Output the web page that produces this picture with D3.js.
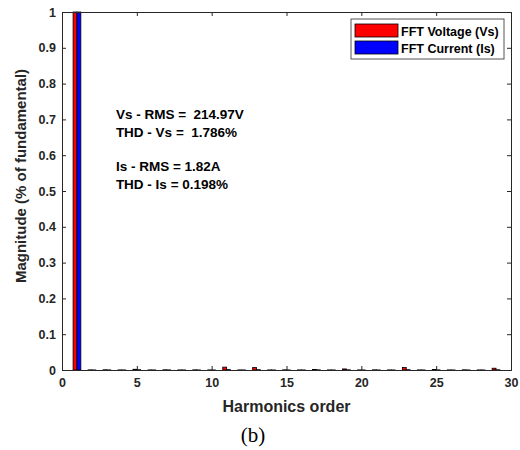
<!DOCTYPE html>
<html lang="en">
<head>
  <meta charset="utf-8">
  <script src="https://d3js.org/d3.v7.min.js"></script>
  <style>
    body { margin: 0; background: #fff; }
    text { font-family: "Liberation Sans", Arial, sans-serif; }
  </style>
</head>
<body>
  <svg id="chart"></svg>
  <script>
    // harmonic spectrum (magnitude relative to fundamental)
    var harmonics = [1, 2, 3, 4, 5, 6, 7, 8, 9, 10, 11, 12, 13, 14, 15, 16, 17, 18, 19, 20, 21, 22, 23, 24, 25, 26, 27, 28, 29];
    var vsMag = [1, 0.0004, 0.0006, 0.0003, 0.002, 0.0003, 0.0006, 0.0003, 0.0005, 0.0003, 0.008, 0.0003, 0.007, 0.0003, 0.0005,
                 0.0003, 0.0015, 0.0003, 0.003, 0.0003, 0.0005, 0.0003, 0.007, 0.0003, 0.0015, 0.0003, 0.0005, 0.0003, 0.005];
    var isMag = [1, 0.0002, 0.0003, 0.0002, 0.0008, 0.0002, 0.0003, 0.0002, 0.0002, 0.0002, 0.001, 0.0002, 0.0008, 0.0002, 0.0002,
                 0.0002, 0.0004, 0.0002, 0.0005, 0.0002, 0.0002, 0.0002, 0.0008, 0.0002, 0.0004, 0.0002, 0.0002, 0.0002, 0.0006];
    var xTicks = [0, 5, 10, 15, 20, 25, 30];
    var yTicks = [0, 0.1, 0.2, 0.3, 0.4, 0.5, 0.6, 0.7, 0.8, 0.9, 1];
    var seriesNames = ['FFT Voltage (Vs)', 'FFT Current (Is)'];
    var seriesColors = ['#ff0000', '#0000ff'];
    var notes = ['Vs - RMS =  214.97V', 'THD - Vs =  1.786%', '', 'Is - RMS = 1.82A', 'THD - Is = 0.198%'];

    var width = 520, height = 450;
    var margin = { left: 62, right: 9, top: 12, bottom: 80 };
    var axisColor = '#262626';

    var svg = d3.select('#chart')
      .attr('width', width)
      .attr('height', height);

    svg.append('rect').attr('width', width).attr('height', height).attr('fill', '#fff');

    var x = d3.scaleLinear().domain([0, 30]).range([margin.left, width - margin.right]);
    var y = d3.scaleLinear().domain([0, 1]).range([height - margin.bottom, margin.top]);

    // bars, two per harmonic
    var offset = 0.13, bw = 0.26;
    var series = [vsMag, isMag];
    var plot = svg.append('g');
    series.forEach(function (vals, si) {
      plot.selectAll('rect.s' + si)
        .data(harmonics)
        .enter().append('rect')
        .attr('class', 's' + si)
        .attr('x', function (h) { return x(h + (si === 0 ? -offset : offset) - bw / 2); })
        .attr('width', x(bw) - x(0))
        .attr('y', function (h, i) { return y(vals[i]); })
        .attr('height', function (h, i) { return y(0) - y(vals[i]); })
        .attr('fill', seriesColors[si])
        .attr('stroke', '#000')
        .attr('stroke-width', 0.8);
    });

    // axes (box with ticks on all sides)
    var xAxis = svg.append('g')
      .attr('transform', 'translate(0,' + y(0) + ')')
      .call(d3.axisBottom(x).tickValues(xTicks).tickSize(-4).tickPadding(8).tickFormat(d3.format('d')));
    var xTop = svg.append('g')
      .attr('transform', 'translate(0,' + y(1) + ')')
      .call(d3.axisTop(x).tickValues(xTicks).tickSize(-4).tickFormat(''));
    var yAxis = svg.append('g')
      .attr('transform', 'translate(' + x(0) + ',0)')
      .call(d3.axisLeft(y).tickValues(yTicks).tickSize(-4).tickPadding(6).tickFormat(function (d) { return d3.format('~g')(d); }));
    var yRight = svg.append('g')
      .attr('transform', 'translate(' + x(30) + ',0)')
      .call(d3.axisRight(y).tickValues(yTicks).tickSize(-4).tickFormat(''));

    [xAxis, xTop, yAxis, yRight].forEach(function (g) {
      g.selectAll('path').attr('stroke', axisColor).attr('stroke-width', 1);
      g.selectAll('line').attr('stroke', axisColor);
      g.selectAll('text')
        .attr('fill', axisColor)
        .style('font-size', '12.5px')
        .style('font-weight', 'bold');
    });

    // axis labels
    svg.append('text')
      .attr('x', (x(0) + x(30)) / 2)
      .attr('y', 412)
      .attr('text-anchor', 'middle')
      .attr('fill', axisColor)
      .style('font-size', '16px')
      .style('font-weight', 'bold')
      .text('Harmonics order');

    svg.append('text')
      .attr('transform', 'translate(26,176) rotate(-90)')
      .attr('text-anchor', 'middle')
      .attr('fill', axisColor)
      .style('font-size', '15px')
      .style('font-weight', 'bold')
      .text('Magnitude (% of fundamental)');

    svg.append('text')
      .attr('x', 253)
      .attr('y', 442)
      .attr('text-anchor', 'middle')
      .attr('fill', '#000')
      .style('font-family', '"Liberation Serif", "Times New Roman", serif')
      .style('font-size', '21px')
      .text('(b)');

    // annotation text
    var noteY = [0.70, 0.65, 0.60, 0.555, 0.505];
    svg.selectAll('text.note')
      .data(notes)
      .enter().append('text')
      .attr('class', 'note')
      .attr('x', x(3.6))
      .attr('y', function (d, i) { return y(noteY[i]); })
      .attr('fill', '#000')
      .style('font-size', '13.5px')
      .style('font-weight', 'bold')
      .style('white-space', 'pre')
      .text(function (d) { return d; });

    // legend
    var legend = svg.append('g').attr('transform', 'translate(351,19)');
    legend.append('rect')
      .attr('width', 153).attr('height', 40)
      .attr('fill', '#fff').attr('stroke', '#555').attr('stroke-width', 1);
    seriesNames.forEach(function (name, i) {
      legend.append('rect')
        .attr('x', 4).attr('y', 5 + i * 17)
        .attr('width', 43).attr('height', 13)
        .attr('fill', seriesColors[i]).attr('stroke', '#000').attr('stroke-width', 0.8);
      legend.append('text')
        .attr('x', 50).attr('y', 16.5 + i * 17)
        .attr('fill', '#000')
        .style('font-size', '12.5px')
        .style('font-weight', 'bold')
        .text(name);
    });
  </script>
</body>
</html>
